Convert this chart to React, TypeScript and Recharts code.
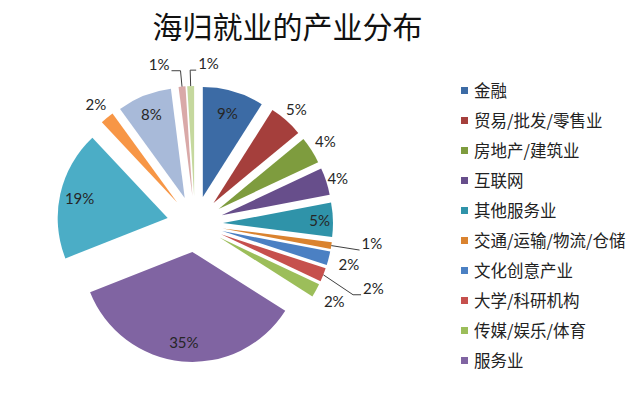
import React from 'react';
import { PieChart, Pie, Cell, Sector, Legend, Tooltip } from 'recharts';

// ---- data ----
const CATEGORIES = [
  '金融',
  '贸易/批发/零售业',
  '房地产/建筑业',
  '互联网',
  '其他服务业',
  '交通/运输/物流/仓储',
  '文化创意产业',
  '大学/科研机构',
  '传媒/娱乐/体育',
  '服务业',
  '类别11',
  '类别12',
  '类别13',
  '类别14',
  '类别15',
];
const SHARES = [9, 5, 4, 4, 5, 1, 2, 2, 2, 35, 19, 2, 8, 1, 1];
const COLORS = [
  '#3C6BA5', '#A53F3C', '#7E9C3E', '#674E8B', '#2F93A9', '#DA832F',
  '#4B80C3', '#C6504D', '#9CBE5A', '#8064A2', '#4BADC6', '#F79646',
  '#A8BAD9', '#D9A9A8', '#C5D89E',
];
const LEGEND_COUNT = 10;
const TITLE = '海归就业的产业分布';

const data = CATEGORIES.map((name, i) => ({ name, value: SHARES[i] }));

// ---- layout ----
const CX = 195;
const CY = 224;
const R = 110;
const EXPLODE = 28;
const RAD = Math.PI / 180;

type LabelSpec = { r: number; leader?: boolean; side?: 'left' | 'right'; run?: number; da?: number };
const LABEL_LAYOUT: LabelSpec[] = [
  { r: 0.8 },
  { r: 1.14 },
  { r: 1.15 },
  { r: 1.11 },
  { r: 0.88 },
  { r: 1.26, leader: true, side: 'right', run: 0 },
  { r: 1.19 },
  { r: 1.32, leader: true, side: 'right', run: 8, da: 3 },
  { r: 1.19 },
  { r: 0.82 },
  { r: 0.82 },
  { r: 1.16 },
  { r: 0.82 },
  { r: 1.145, leader: true, side: 'left', run: 9 },
  { r: 1.145, leader: true, side: 'right', run: 6 },
];

const dir = (deg: number): [number, number] => [Math.cos(-deg * RAD), Math.sin(-deg * RAD)];

const ExplodedSector = (props: any) => {
  const { cx, cy, innerRadius, outerRadius, startAngle, endAngle, fill } = props;
  const mid = (startAngle + endAngle) / 2;
  const [ux, uy] = dir(mid);
  return (
    <Sector
      cx={cx + EXPLODE * ux}
      cy={cy + EXPLODE * uy}
      innerRadius={innerRadius}
      outerRadius={outerRadius}
      startAngle={startAngle}
      endAngle={endAngle}
      fill={fill}
      stroke="none"
    />
  );
};

const LABEL_FONT = { fontFamily: 'Lato, "Open Sans", sans-serif', fontSize: 15, fill: '#262626' };

const renderLabel = (props: any) => {
  const { cx, cy, midAngle, outerRadius, index, value } = props;
  const spec = LABEL_LAYOUT[index];
  if (!spec) return null;
  const [ux, uy] = dir(midAngle);
  const ax = cx + EXPLODE * ux;
  const ay = cy + EXPLODE * uy;
  const text = `${value}%`;
  if (!spec.leader) {
    return (
      <text
        x={ax + spec.r * outerRadius * ux}
        y={ay + spec.r * outerRadius * uy}
        textAnchor="middle"
        dominantBaseline="central"
        {...LABEL_FONT}
      >
        {text}
      </text>
    );
  }
  const [ex, ey] = dir(midAngle - (spec.da || 0));
  const sx = ax + outerRadius * ux;
  const sy = ay + outerRadius * uy;
  const bx = ax + spec.r * outerRadius * ex;
  const by = ay + spec.r * outerRadius * ey;
  const sign = spec.side === 'left' ? -1 : 1;
  const endX = bx + sign * (spec.run || 0);
  return (
    <g>
      <polyline
        points={`${sx},${sy} ${bx},${by} ${endX},${by}`}
        fill="none"
        stroke="#404040"
        strokeWidth={1}
      />
      <text
        x={endX + sign * 2}
        y={by - 7}
        textAnchor={sign < 0 ? 'end' : 'start'}
        dominantBaseline="central"
        {...LABEL_FONT}
      >
        {text}
      </text>
    </g>
  );
};

const renderLegend = (props: any) => {
  const payload: any[] = props.payload || [];
  const ordered = CATEGORIES.slice(0, LEGEND_COUNT).map(
    (name) => payload.find((e: any) => e.value === name) || { value: name },
  );
  return (
    <div>
      {ordered.map((e: any, i: number) => (
        <div
          key={`leg-${i}`}
          style={{ display: 'flex', alignItems: 'center', height: 30 }}
        >
          <span
            style={{
              display: 'inline-block',
              width: 7,
              height: 7,
              background: COLORS[i],
              marginRight: 6,
              flexShrink: 0,
            }}
          />
          <span
            style={{
              fontFamily: '"Noto Sans CJK SC", sans-serif',
              fontSize: 16.5,
              color: '#222',
              lineHeight: '30px',
              whiteSpace: 'nowrap',
            }}
          >
            {e.value}
          </span>
        </div>
      ))}
    </div>
  );
};

export default function App() {
  return (
    <div
      style={{
        position: 'absolute',
        left: 0,
        top: 0,
        width: 640,
        height: 393,
        background: '#fff',
        overflow: 'hidden',
      }}
    >
      <div
        style={{
          position: 'absolute',
          left: 0,
          top: 9,
          width: 575,
          textAlign: 'center',
          fontFamily: '"Noto Sans CJK SC", sans-serif',
          fontSize: 30,
          lineHeight: '32px',
          color: '#111',
          zIndex: 2,
        }}
      >
        {TITLE}
      </div>
      <PieChart width={640} height={393} margin={{ top: 0, right: 0, bottom: 0, left: 0 }}>
        <Pie
          data={data}
          dataKey="value"
          nameKey="name"
          cx={CX}
          cy={CY}
          outerRadius={R}
          startAngle={90}
          endAngle={-270}
          stroke="none"
          isAnimationActive={false}
          labelLine={false}
          label={renderLabel}
          {...({ shape: ExplodedSector } as any)}
          activeShape={ExplodedSector}
          inactiveShape={ExplodedSector}
        >
          {data.map((d, i) => (
            <Cell key={`c-${i}`} fill={COLORS[i]} />
          ))}
        </Pie>
        <Tooltip defaultIndex={0} content={() => null} cursor={false} />
        <Legend
          layout="vertical"
          align="right"
          verticalAlign="top"
          itemSorter={null as any}
          content={renderLegend}
          wrapperStyle={{ left: 461, top: 75, width: 179, right: 'auto' }}
        />
      </PieChart>
    </div>
  );
}
